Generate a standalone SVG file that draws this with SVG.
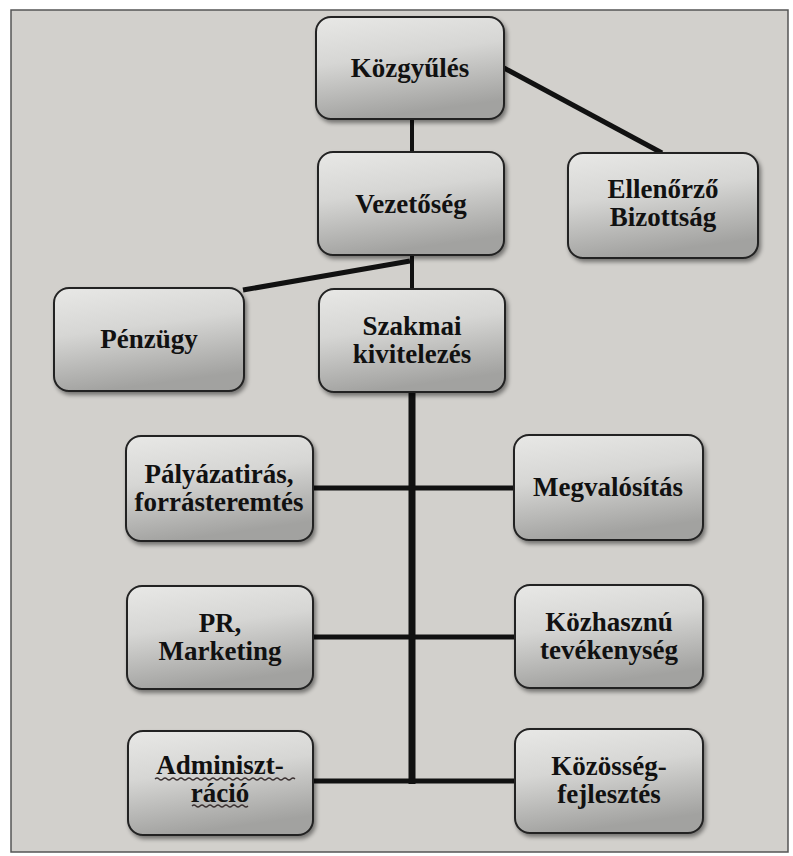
<svg xmlns="http://www.w3.org/2000/svg" width="793" height="856" viewBox="0 0 793 856">
<defs>
<linearGradient id="boxg" x1="0" y1="0" x2="0.25" y2="1">
<stop offset="0" stop-color="#e8e8e6"/>
<stop offset="0.45" stop-color="#d6d6d4"/>
<stop offset="1" stop-color="#a2a2a0"/>
</linearGradient>
<filter id="sh" x="-10%" y="-10%" width="125%" height="130%">
<feDropShadow dx="2" dy="3" stdDeviation="2" flood-color="#000" flood-opacity="0.45"/>
</filter>
<style>
.box{fill:url(#boxg);stroke:#222;stroke-width:2;filter:url(#sh)}
.t{font-weight:bold;font-size:27px;fill:#111;text-anchor:middle}
.ln{stroke:#111;fill:none;stroke-linecap:butt}
.wavy{stroke:#3a3030;stroke-width:1.3;fill:none}
</style>
</defs>
<rect x="0" y="0" width="793" height="856" fill="#ffffff"/>
<rect x="11" y="10" width="777" height="842" fill="#d2d0cc" stroke="#555" stroke-width="1.5"/>

<g id="connectors">
<line class="ln" x1="412" y1="119" x2="412" y2="153" stroke-width="4"/>
<line class="ln" x1="504" y1="68" x2="662" y2="153" stroke-width="5"/>
<line class="ln" x1="412" y1="254" x2="412" y2="290" stroke-width="4"/>
<line class="ln" x1="243" y1="290" x2="410" y2="261" stroke-width="5"/>
<line class="ln" x1="412" y1="392" x2="412" y2="784" stroke-width="7"/>
<line class="ln" x1="313" y1="488" x2="514" y2="488" stroke-width="5"/>
<line class="ln" x1="313" y1="637" x2="515" y2="637" stroke-width="5"/>
<line class="ln" x1="313" y1="781" x2="515" y2="781" stroke-width="5"/>
</g>

<g font-family="'Liberation Serif', 'Times New Roman', 'DejaVu Serif', serif">
<g id="kozgyules">
<rect class="box" x="316" y="17" width="188" height="102" rx="15"/>
<text class="t" x="410" y="77">Közgyűlés</text>
</g>
<g id="vezetoseg">
<rect class="box" x="318" y="152" width="186" height="103" rx="15"/>
<text class="t" x="411" y="213">Vezetőség</text>
</g>
<g id="ellenorzo">
<rect class="box" x="568" y="153" width="190" height="105" rx="15"/>
<text class="t" x="663" y="198">Ellenőrző</text>
<text class="t" x="663" y="226">Bizottság</text>
</g>
<g id="penzugy">
<rect class="box" x="54" y="288" width="190" height="103" rx="15"/>
<text class="t" x="149" y="348">Pénzügy</text>
</g>
<g id="szakmai">
<rect class="box" x="319" y="289" width="186" height="103" rx="15"/>
<text class="t" x="412" y="335">Szakmai</text>
<text class="t" x="412" y="363">kivitelezés</text>
</g>
<g id="palyazatiras">
<rect class="box" x="126" y="436" width="187" height="105" rx="15"/>
<text class="t" x="219" y="483">Pályázatirás,</text>
<text class="t" x="219" y="511">forrásteremtés</text>
</g>
<g id="megvalositas">
<rect class="box" x="514" y="435" width="189" height="105" rx="15"/>
<text class="t" x="608" y="496">Megvalósítás</text>
</g>
<g id="pr">
<rect class="box" x="127" y="586" width="186" height="103" rx="15"/>
<text class="t" x="220" y="632">PR,</text>
<text class="t" x="220" y="660">Marketing</text>
</g>
<g id="kozhasznu">
<rect class="box" x="515" y="585" width="188" height="103" rx="15"/>
<text class="t" x="609" y="631">Közhasznú</text>
<text class="t" x="609" y="659">tevékenység</text>
</g>
<g id="adminisztracio">
<rect class="box" x="128" y="731" width="185" height="104" rx="15"/>
<text class="t" x="220" y="774">Adminiszt-</text>
<text class="t" x="220" y="802">ráció</text>
<path class="wavy" d="M155 779 q2 -2 4 0 t4 0 t4 0 t4 0 t4 0 t4 0 t4 0 t4 0 t4 0 t4 0 t4 0 t4 0 t4 0 t4 0 t4 0 t4 0 t4 0 t4 0 t4 0 t4 0 t4 0 t4 0 t4 0 t4 0 t4 0 t4 0 t4 0 t4 0 t4 0 t4 0 t4 0 t4 0 t4 0 t4 0 t4 0"/>
<path class="wavy" d="M192 806 q2 -2 4 0 t4 0 t4 0 t4 0 t4 0 t4 0 t4 0 t4 0 t4 0 t4 0 t4 0 t4 0 t4 0 t4 0"/>
</g>
<g id="kozosseg">
<rect class="box" x="515" y="729" width="188" height="104" rx="15"/>
<text class="t" x="609" y="775">Közösség-</text>
<text class="t" x="609" y="803">fejlesztés</text>
</g>
</g>
</svg>
